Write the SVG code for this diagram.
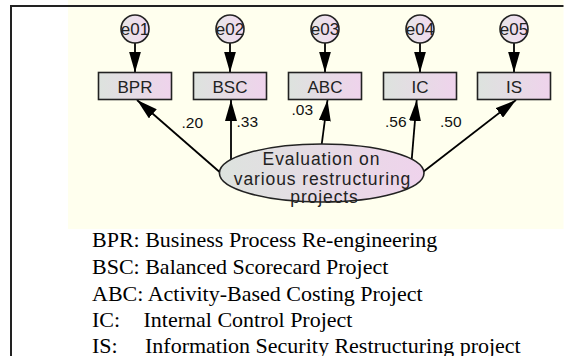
<svg xmlns="http://www.w3.org/2000/svg" width="578" height="356" viewBox="0 0 578 356">
<defs>
<linearGradient id="gBox" x1="0" y1="0" x2="1" y2="0">
<stop offset="0" stop-color="#dde3de"/>
<stop offset="1" stop-color="#efd3ec"/>
</linearGradient>
<linearGradient id="gCirc" x1="0" y1="0" x2="1" y2="0">
<stop offset="0" stop-color="#e6e6e8"/>
<stop offset="1" stop-color="#f2d8ef"/>
</linearGradient>
<marker id="ah" markerUnits="userSpaceOnUse" markerWidth="22" markerHeight="12" refX="21" refY="6" orient="auto">
<path d="M0,0 L21,6 L0,12 z" fill="#000"/>
</marker>
<style>
.box{fill:url(#gBox);stroke:#222;stroke-width:1.6}
.circ{fill:url(#gCirc);stroke:#222;stroke-width:1.6}
.lat{fill:url(#gBox);stroke:#222;stroke-width:1.6}
.conn{stroke:#000;stroke-width:1.8;fill:none;marker-end:url(#ah)}
.bl{font-family:"Liberation Sans",Arial,sans-serif;font-size:17px;fill:#222;text-anchor:middle}
.el{font-family:"Liberation Sans",Arial,sans-serif;font-size:17px;fill:#222;text-anchor:middle}
.wl{font-family:"Liberation Sans",Arial,sans-serif;font-size:15.5px;fill:#111}
.ll{font-family:"Liberation Sans",Arial,sans-serif;font-size:17.5px;letter-spacing:0.9px;fill:#222;text-anchor:middle}
.lg{font-family:"Liberation Serif","Times New Roman",serif;font-size:22px;fill:#000}
</style>
</defs>
<rect x="0" y="0" width="578" height="356" fill="#fff"/>
<rect x="68" y="0" width="495.5" height="229" fill="#ffffee"/>
<path d="M10,6 H563.5 M11,6 V356" stroke="#222" stroke-width="2" fill="none"/>

<g id="connectors">
<line class="conn" x1="135" y1="43" x2="135" y2="72.5"/>
<line class="conn" x1="230" y1="43" x2="230" y2="72.5"/>
<line class="conn" x1="325" y1="43" x2="325" y2="72.5"/>
<line class="conn" x1="420" y1="43" x2="420" y2="72.5"/>
<line class="conn" x1="514" y1="43" x2="514" y2="72.5"/>
<line class="conn" x1="219.3" y1="171.7" x2="137" y2="100"/>
<line class="conn" x1="231" y1="161" x2="231" y2="100"/>
<line class="conn" x1="321.7" y1="144.5" x2="327.5" y2="100"/>
<line class="conn" x1="411.7" y1="159.5" x2="416.7" y2="100"/>
<line class="conn" x1="423.3" y1="171.7" x2="516" y2="100"/>
<text class="wl" x="181.5" y="128.3">.20</text>
<text class="wl" x="236.5" y="127.3">.33</text>
<text class="wl" x="291.5" y="115">.03</text>
<text class="wl" x="385" y="126.7">.56</text>
<text class="wl" x="440" y="127.3">.50</text>
</g>

<g id="e01"><circle class="circ" cx="135" cy="29" r="14"/><text class="el" x="135" y="35">e01</text></g>
<g id="e02"><circle class="circ" cx="230" cy="29" r="14"/><text class="el" x="230" y="35">e02</text></g>
<g id="e03"><circle class="circ" cx="325" cy="29" r="14"/><text class="el" x="325" y="35">e03</text></g>
<g id="e04"><circle class="circ" cx="420" cy="29" r="14"/><text class="el" x="420" y="35">e04</text></g>
<g id="e05"><circle class="circ" cx="514" cy="29" r="14"/><text class="el" x="514" y="35">e05</text></g>

<g id="BPR"><rect class="box" x="98.5" y="72.5" width="73" height="27"/><text class="bl" x="135" y="92.5">BPR</text></g>
<g id="BSC"><rect class="box" x="193.5" y="72.5" width="73" height="27"/><text class="bl" x="230" y="92.5">BSC</text></g>
<g id="ABC"><rect class="box" x="288.5" y="72.5" width="73" height="27"/><text class="bl" x="325" y="92.5">ABC</text></g>
<g id="IC"><rect class="box" x="383.5" y="72.5" width="73" height="27"/><text class="bl" x="420" y="92.5">IC</text></g>
<g id="IS"><rect class="box" x="477.5" y="72.5" width="73" height="27"/><text class="bl" x="514" y="92.5">IS</text></g>

<g id="evaluation">
<ellipse class="lat" cx="321.7" cy="173" rx="102.3" ry="29"/>
<text class="ll" x="321.5" y="165">Evaluation on</text>
<text class="ll" x="322.5" y="184.5">various restructuring</text>
<text class="ll" x="324.5" y="203">projects</text>
</g>

<g id="legend">
<text class="lg" x="92" y="247">BPR: Business Process Re-engineering</text>
<text class="lg" x="92" y="274">BSC: Balanced Scorecard Project</text>
<text class="lg" x="92" y="300.5">ABC: Activity-Based Costing Project</text>
<text class="lg" x="92" y="327"><tspan>IC:</tspan><tspan x="143.5">Internal Control Project</tspan></text>
<text class="lg" x="92" y="352.5"><tspan>IS:</tspan><tspan x="145">Information Security Restructuring project</tspan></text>
</g>
</svg>
